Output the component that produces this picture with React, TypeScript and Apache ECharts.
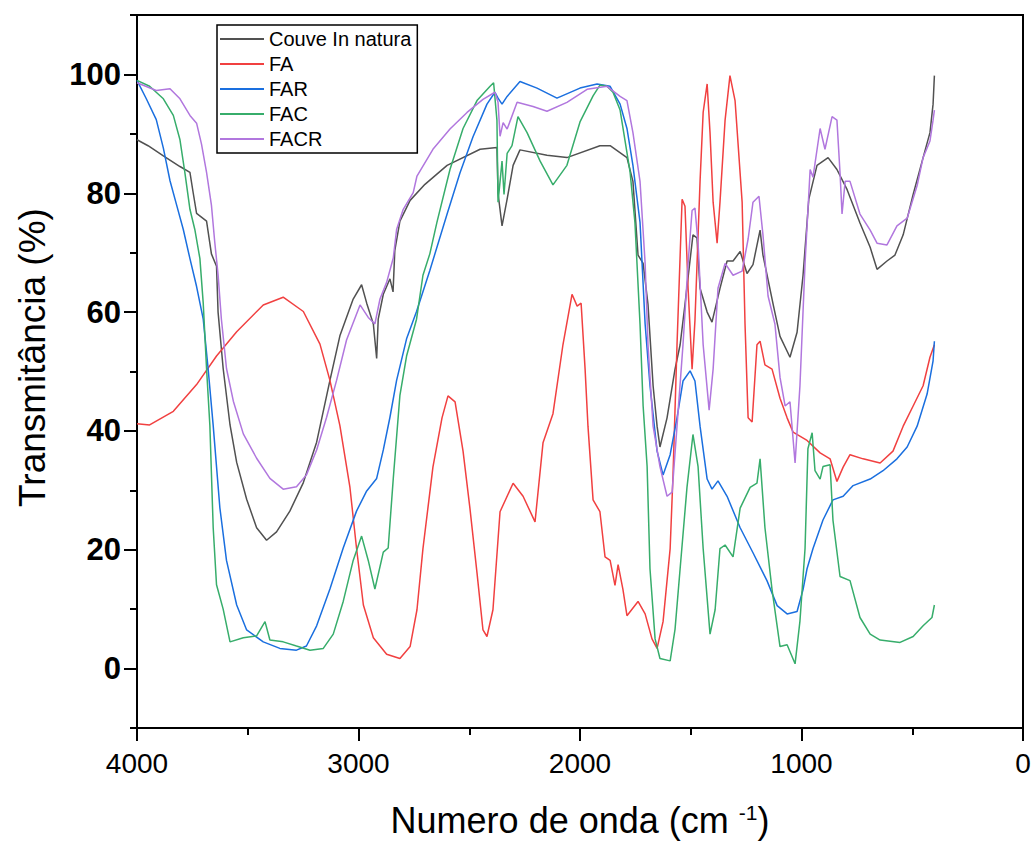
import React, { useEffect, useRef } from "react";
import * as echarts from "echarts";

const FONT = "'Liberation Sans', Arial, sans-serif";

const seriesNames = ["Couve In natura", "FA", "FAR", "FAC", "FACR"];
const seriesColors = ["#515151", "#F14040", "#1A6FDF", "#37AD6B", "#B177DE"];

const yMajorTicks = [0, 20, 40, 60, 80, 100];

// [wavenumber (cm-1), transmittance (%)]
const couveData = [
  [4000, 89], [3950, 88], [3881, 86.3], [3806, 84.5], [3761, 83.5], [3746, 80], [3731, 76.6], [3686, 75.3],
  [3664, 69.8], [3641, 67.7], [3634, 60], [3611, 50.5], [3580, 41], [3550, 34.7], [3505, 28.5], [3460, 23.7],
  [3415, 21.6], [3370, 23], [3310, 26.5], [3249, 31.3], [3189, 38.1], [3129, 48.5], [3084, 56], [3024, 62.2],
  [2986, 64.6], [2963, 61.5], [2933, 58], [2918, 52.2], [2911, 58.8], [2888, 63], [2858, 65.6], [2844, 63.4],
  [2836, 70.4], [2813, 75.3], [2767, 78.8], [2700, 81.5], [2600, 84.7], [2451, 87.4], [2375, 87.7], [2370, 80],
  [2352, 74.5], [2329, 79], [2302, 84.7], [2271, 87.3], [2149, 86.4], [2059, 86], [1910, 88], [1864, 88],
  [1788, 86], [1761, 82], [1738, 69.6], [1715, 68.2], [1693, 61.3], [1670, 47.6], [1652, 40.8], [1639, 37.3],
  [1607, 42.2], [1571, 50.4], [1548, 54.5], [1526, 61.3], [1490, 73], [1472, 72.5], [1458, 64], [1426, 60],
  [1404, 58.3], [1368, 64], [1336, 68.6], [1309, 68.6], [1277, 70.2], [1246, 66.5], [1219, 68], [1187, 73.8],
  [1174, 69.6], [1128, 61.3], [1097, 55.9], [1052, 52.4], [1020, 56.6], [993, 66.2], [967, 79], [930, 84.7],
  [880, 86], [840, 84], [794, 80.6], [736, 75], [690, 70.9], [659, 67.2], [614, 68.6], [578, 69.6], [541, 73],
  [496, 79.8], [451, 86], [420, 90.2], [406, 95], [400, 99.8],
];

const faData = [
  [4000, 41.2], [3943, 41], [3836, 43.3], [3731, 47.8], [3641, 52.6], [3550, 56.7], [3430, 61.2], [3340, 62.5],
  [3249, 60.1], [3174, 54.6], [3129, 48.5], [3084, 40.9], [3039, 30.6], [3009, 20.3], [2978, 10.7], [2933, 5.2],
  [2873, 2.4], [2813, 1.7], [2767, 3.7], [2736, 9.9], [2709, 20.2], [2664, 33.9], [2623, 42.2], [2596, 45.9],
  [2564, 44.9], [2528, 36.6], [2497, 27], [2465, 16.1], [2438, 6.5], [2420, 5.4], [2393, 9.9], [2361, 26.4],
  [2302, 31.2], [2257, 29], [2203, 24.7], [2167, 38], [2122, 42.9], [2077, 54.5], [2036, 63], [2013, 61],
  [1995, 61.5], [1977, 50.4], [1964, 40.8], [1941, 28.4], [1910, 26.4], [1887, 18.8], [1864, 18.2], [1842, 14],
  [1828, 17.5], [1806, 13.3], [1788, 8.9], [1738, 11.3], [1706, 9.2], [1675, 5], [1652, 3.4], [1625, 7.9],
  [1593, 20.2], [1580, 32.6], [1562, 54.5], [1539, 79], [1526, 77.8], [1512, 64], [1494, 50.4], [1481, 58.6],
  [1458, 82], [1444, 93.6], [1426, 98.4], [1413, 90.2], [1399, 78.5], [1381, 71.6], [1368, 78.5], [1345, 92.3],
  [1323, 99.8], [1300, 95.6], [1268, 78.5], [1255, 58], [1241, 42.2], [1223, 41.5], [1201, 54.5], [1187, 55.1],
  [1165, 51.1], [1133, 50.4], [1097, 45.5], [1065, 42.2], [1038, 39.8], [975, 38.4], [916, 36.3], [871, 35.3],
  [840, 31.5], [812, 33.9], [781, 36], [722, 35.3], [645, 34.6], [587, 36.6], [541, 40.8], [496, 44.2],
  [451, 47.6], [420, 52.4], [400, 54.5],
];

const farData = [
  [4000, 99], [3958, 95.9], [3913, 92.4], [3881, 87.6], [3851, 82.1], [3821, 78], [3791, 73.9], [3761, 69],
  [3731, 64.3], [3701, 58.8], [3679, 50.5], [3656, 40.9], [3626, 27.1], [3596, 18.2], [3550, 10.7], [3505, 6.5],
  [3430, 4.5], [3355, 3.4], [3280, 3.1], [3235, 3.8], [3189, 7.2], [3129, 13.4], [3069, 20.3], [3009, 26.5],
  [2963, 29.9], [2918, 32], [2888, 36.8], [2858, 42.3], [2828, 48.5], [2783, 55.5], [2738, 60.1], [2678, 67],
  [2600, 76.5], [2542, 83.4], [2483, 89.5], [2420, 95], [2384, 97], [2370, 96], [2352, 95], [2329, 96.3],
  [2271, 98.8], [2194, 97.7], [2104, 96], [2000, 97.7], [1923, 98.4], [1864, 98], [1819, 95], [1788, 90.9],
  [1761, 84.7], [1729, 75.1], [1706, 58], [1684, 47.6], [1652, 36.6], [1625, 32.6], [1593, 36], [1562, 42.2],
  [1535, 48.4], [1503, 50.1], [1481, 48.4], [1458, 40.8], [1426, 31.9], [1404, 30.2], [1377, 31.6], [1336, 29],
  [1277, 23.7], [1219, 19.5], [1156, 14.8], [1110, 10.6], [1065, 9.2], [1020, 9.6], [993, 13.3], [975, 16.8],
  [948, 20.2], [903, 25], [858, 28.4], [812, 29], [767, 30.8], [690, 31.9], [632, 33.3], [569, 35.3],
  [523, 37.3], [478, 40.8], [433, 46.2], [406, 51.8], [400, 55.1],
];

const facData = [
  [4000, 99], [3943, 98], [3881, 95.9], [3836, 93.1], [3806, 89], [3784, 83.5], [3761, 77.3], [3739, 73.9],
  [3716, 69], [3701, 61.5], [3686, 50.5], [3671, 40.9], [3656, 23.7], [3641, 14.1], [3611, 10], [3580, 4.5],
  [3520, 5.2], [3460, 5.5], [3422, 7.9], [3400, 4.8], [3340, 4.5], [3280, 3.8], [3219, 3.1], [3159, 3.4],
  [3114, 5.8], [3069, 11.3], [3024, 18.2], [2986, 22.3], [2956, 18.2], [2926, 13.4], [2888, 19.6], [2866, 20.3],
  [2843, 32], [2813, 46], [2783, 52.6], [2738, 58.8], [2709, 66.2], [2678, 69.8], [2646, 75.1], [2587, 84],
  [2528, 90.9], [2465, 95.6], [2406, 98], [2390, 98.6], [2375, 92.3], [2370, 78.5], [2352, 85.4], [2343, 79.8],
  [2329, 86.7], [2307, 88], [2280, 92.9], [2239, 90.2], [2180, 85.4], [2122, 81.4], [2059, 84.7], [2000, 92],
  [1941, 96.4], [1910, 98.2], [1878, 98], [1851, 97], [1819, 94], [1774, 83.6], [1752, 75.1], [1729, 58],
  [1715, 44.2], [1697, 34], [1684, 16.8], [1661, 5], [1639, 1.7], [1593, 1.3], [1571, 6.6], [1548, 16.8],
  [1517, 30.5], [1490, 39.4], [1467, 34], [1444, 20.2], [1413, 5.8], [1390, 9.9], [1368, 20.2], [1345, 20.8],
  [1309, 18.8], [1277, 27], [1232, 30.5], [1201, 31.2], [1187, 35.3], [1165, 23.7], [1133, 13.3], [1097, 3.7],
  [1065, 4], [1029, 0.8], [1007, 8], [984, 20.2], [971, 37], [952, 39.7], [939, 33.3], [916, 31.9], [903, 34],
  [871, 34.3], [858, 25], [826, 15.5], [781, 14.8], [736, 8.6], [690, 5.8], [645, 4.8], [555, 4.4], [496, 5.4],
  [451, 7.2], [411, 8.6], [400, 10.7],
];

const facrData = [
  [4000, 98.6], [3913, 97.3], [3851, 97.6], [3806, 95.9], [3761, 93.1], [3731, 91.8], [3709, 88.3], [3686, 83.5],
  [3664, 78], [3649, 71.8], [3634, 66.3], [3619, 58.8], [3596, 50.5], [3565, 45], [3520, 39.5], [3460, 35.4],
  [3400, 32], [3340, 30.2], [3280, 30.6], [3235, 32.6], [3189, 36.8], [3144, 42.3], [3099, 48.5], [3054, 55.3],
  [2993, 61.2], [2956, 59.1], [2926, 58], [2903, 62.2], [2873, 65], [2843, 69.1], [2828, 73.9], [2798, 77.3],
  [2753, 80.1], [2736, 82.9], [2664, 87.4], [2587, 90.8], [2510, 93.6], [2438, 95.8], [2384, 97], [2370, 95.3],
  [2361, 89.6], [2347, 91.9], [2329, 90.8], [2284, 95.3], [2212, 94.6], [2149, 93.8], [2059, 95.3], [1968, 97.5],
  [1878, 98], [1819, 96.3], [1788, 95.6], [1761, 90.2], [1729, 82], [1706, 68.2], [1693, 54.5], [1670, 40.8],
  [1639, 34], [1607, 29], [1584, 29.7], [1562, 40.8], [1535, 54.5], [1512, 68.2], [1494, 77.1], [1481, 77.5],
  [1467, 71.6], [1444, 54.5], [1417, 43.5], [1399, 50.4], [1377, 64], [1345, 68.2], [1309, 66.2], [1268, 66.9],
  [1241, 72.3], [1219, 78.5], [1192, 79.5], [1174, 73], [1151, 62.7], [1120, 58], [1097, 49], [1074, 44.2],
  [1052, 44.9], [1029, 34.6], [1007, 47.6], [984, 68.2], [961, 84], [948, 82.7], [916, 90.9], [894, 87.4],
  [862, 92.9], [840, 92.3], [826, 83.4], [817, 76.5], [803, 82], [781, 82], [736, 76.5], [690, 73.8],
  [659, 71.6], [614, 71.3], [569, 74.5], [523, 75.8], [478, 81.3], [451, 86], [420, 88.8], [406, 92.3],
  [400, 94],
];

const allData = [couveData, faData, farData, facData, facrData];

export default function App() {
  const ref = useRef<HTMLDivElement>(null);
  useEffect(() => {
    if (!ref.current) return;
    const chart = echarts.init(ref.current, null, { renderer: "svg" });
    const axisLine = { show: true, onZero: false, lineStyle: { color: "#000", width: 2 } };
    const plain = (v: number) => String(v);
    chart.setOption({
      animation: false,
      backgroundColor: "#fff",
      grid: {
        left: 137, right: 12, top: 15, bottom: 113,
        show: true, borderColor: "#000", borderWidth: 2, containLabel: false,
      },
      legend: {
        orient: "vertical",
        left: 217,
        top: 25,
        icon: "rect",
        itemWidth: 44,
        itemHeight: 2,
        itemGap: 5,
        padding: [4, 6, 4, 3],
        borderColor: "#000",
        borderWidth: 1.5,
        textStyle: { fontFamily: FONT, fontSize: 20, color: "#000" },
        data: seriesNames,
      },
      xAxis: {
        type: "value",
        inverse: true,
        min: 0,
        max: 4000,
        interval: 1000,
        axisLine,
        axisTick: { show: true, length: 13, lineStyle: { color: "#000", width: 2 } },
        minorTick: { show: true, splitNumber: 2, length: 7, lineStyle: { color: "#000", width: 2 } },
        splitLine: { show: false },
        minorSplitLine: { show: false },
        axisLabel: {
          fontFamily: FONT, fontSize: 28, color: "#000", margin: 21,
          formatter: plain,
        },
        name: "Numero de onda (cm {sup|-1})",
        nameLocation: "middle",
        nameGap: 74,
        nameTextStyle: {
          fontFamily: FONT, fontSize: 36, color: "#000",
          rich: { sup: { fontFamily: FONT, fontSize: 21, verticalAlign: "top", color: "#000" } },
        },
      },
      yAxis: [
        {
          type: "value",
          min: -10,
          max: 110,
          position: "left",
          axisLine,
          axisTick: { show: true, length: 13, customValues: yMajorTicks, lineStyle: { color: "#000", width: 2 } },
          splitLine: { show: false },
          axisLabel: {
            customValues: yMajorTicks,
            formatter: plain,
            fontFamily: FONT, fontSize: 31, fontWeight: "bold", color: "#000", margin: 16,
          },
          name: "Transmitância (%)",
          nameLocation: "middle",
          nameGap: 86,
          nameTextStyle: { fontFamily: FONT, fontSize: 37, color: "#000", padding: [0, 0, 0, 28] },
        },
        {
          type: "value",
          min: -10,
          max: 110,
          interval: 20,
          position: "left",
          axisLine: { show: false, onZero: false },
          axisTick: { show: true, length: 7, lineStyle: { color: "#000", width: 2 } },
          axisLabel: { show: false },
          splitLine: { show: false },
        },
      ],
      series: seriesNames.map((name, i) => ({
        name,
        type: "line",
        data: allData[i],
        showSymbol: false,
        symbol: "none",
        yAxisIndex: 0,
        color: seriesColors[i],
        lineStyle: { color: seriesColors[i], width: 1.5 },
        emphasis: { disabled: true },
      })),
    });
    return () => chart.dispose();
  }, []);
  return (
    <div
      ref={ref}
      style={{ position: "absolute", left: 0, top: 0, width: "1035px", height: "843px" }}
    />
  );
}
